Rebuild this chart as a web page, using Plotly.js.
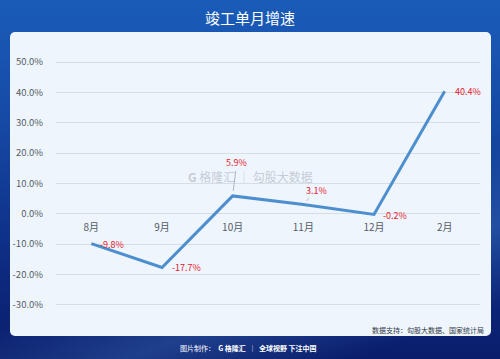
<!DOCTYPE html>
<html>
<head>
<meta charset="utf-8">
<script src="https://cdn.plot.ly/plotly-3.0.1.min.js"></script>
<style>
  html, body { margin:0; padding:0; width:500px; height:359px; overflow:hidden; }
  body { background: linear-gradient(180deg, #1a5cb9 0%, #1549a4 35%, #0d2a80 75%, #0a1d6b 100%); position:relative; font-family:"Noto Sans CJK SC", sans-serif; }
  #glow { position:absolute; left:0; top:0; width:500px; height:359px;
    background: linear-gradient(160deg, rgba(255,255,255,0) 60%, rgba(90,160,230,0.25) 75%, rgba(255,255,255,0) 90%); }
  #panel { position:absolute; left:10px; top:32px; width:481px; height:304px; background:#eef5fd; border-radius:5px; }
  #chart { position:absolute; left:0; top:0; width:500px; height:359px; }
</style>
</head>
<body>
<div id="glow"></div>
<div id="panel"></div>
<div id="chart"></div>
<script>
const months = ['8月', '9月', '10月', '11月', '12月', '2月'];
const growth = [-9.8, -17.7, 5.9, 3.1, -0.2, 40.4];
const yTickVals = [-30, -20, -10, 0, 10, 20, 30, 40, 50];
const yTickText = ['-30.0%', '-20.0%', '-10.0%', '0.0%', '10.0%', '20.0%', '30.0%', '40.0%', '50.0%'];

const yMin = -35, yMax = 55;
const font = '"Noto Sans CJK SC", "Noto Sans", sans-serif';

// label placement per point
const labelStyle = [
  {xshift: 21, yshift: -1, arrow: false},
  {xshift: 24, yshift: 0, arrow: false},
  {arrow: true, ax: 4, ay: -33},
  {arrow: true, ax: 13, ay: -14},
  {xshift: 21, yshift: -1, arrow: false},
  {xshift: 23, yshift: 0, arrow: false}
];

const annotations = growth.map((v, i) => {
  const s = labelStyle[i];
  const a = {
    x: i, y: v, xref: 'x', yref: 'y',
    text: v.toFixed(1) + '%',
    font: {family: font, size: 9, color: '#e8202a'},
    showarrow: s.arrow
  };
  if (s.arrow) {
    a.ax = s.ax; a.ay = s.ay; a.arrowhead = 0; a.arrowwidth = 0.8;
    a.arrowcolor = '#9aa4ae'; a.standoff = 5; a.startstandoff = 0;
  } else {
    a.xshift = s.xshift; a.yshift = s.yshift;
  }
  return a;
});

// watermark
annotations.push({
  xref: 'x', yref: 'y', x: 2.25, y: 12.3, showarrow: false, borderpad: 0,
  text: '<b>G</b> 格隆汇 │ 勾股大数据',
  font: {family: font, size: 12, color: 'rgba(160,168,178,0.55)'}
});
// source
annotations.push({
  xref: 'paper', yref: 'paper', x: 1, xanchor: 'right', y: -0.035, yanchor: 'middle',
  xshift: 6, text: '数据支持：勾股大数据、国家统计局', showarrow: false,
  font: {family: font, size: 7, color: '#333a44'}
});
// footer
annotations.push({
  xref: 'paper', yref: 'paper', x: 0.455, xanchor: 'center', y: -0.103, yanchor: 'middle',
  text: '图片制作：  <b>G 格隆汇</b>  │  <b>全球视野 下注中国</b>', showarrow: false,
  font: {family: font, size: 7, color: '#ffffff'}
});

const trace = {
  x: [0, 1, 2, 3, 4, 5], y: growth,
  type: 'scatter', mode: 'lines',
  line: {color: '#4d8fce', width: 3},
  hoverinfo: 'skip'
};

const layout = {
  width: 500, height: 359,
  margin: {l: 56, r: 20, t: 47, b: 39},
  paper_bgcolor: 'rgba(0,0,0,0)',
  plot_bgcolor: 'rgba(0,0,0,0)',
  showlegend: false,
  title: {text: '竣工单月增速', x: 0.5, xanchor: 'center', y: 0.947, yanchor: 'middle',
    font: {family: font, size: 15, color: '#ffffff'}},
  xaxis: {
    range: [-0.5, 5.5], tickvals: [0, 1, 2, 3, 4, 5], ticktext: months,
    anchor: 'free', position: (0 - yMin) / (yMax - yMin),
    showgrid: false, zeroline: false, showline: false,
    ticks: 'outside', ticklen: 4, tickcolor: 'rgba(0,0,0,0)',
    tickfont: {family: font, size: 10, color: '#555c66'}, fixedrange: true
  },
  yaxis: {
    range: [yMin, yMax], tickvals: yTickVals, ticktext: yTickText,
    showgrid: true, gridcolor: '#d6dde5', gridwidth: 1,
    zeroline: false, showline: false,
    ticks: 'outside', ticklen: 10, tickcolor: 'rgba(0,0,0,0)',
    tickfont: {family: font, size: 9.5, color: '#555c66'}, fixedrange: true
  },
  annotations: annotations
};

Plotly.newPlot('chart', [trace], layout, {displayModeBar: false, staticPlot: true});
</script>
</body>
</html>
